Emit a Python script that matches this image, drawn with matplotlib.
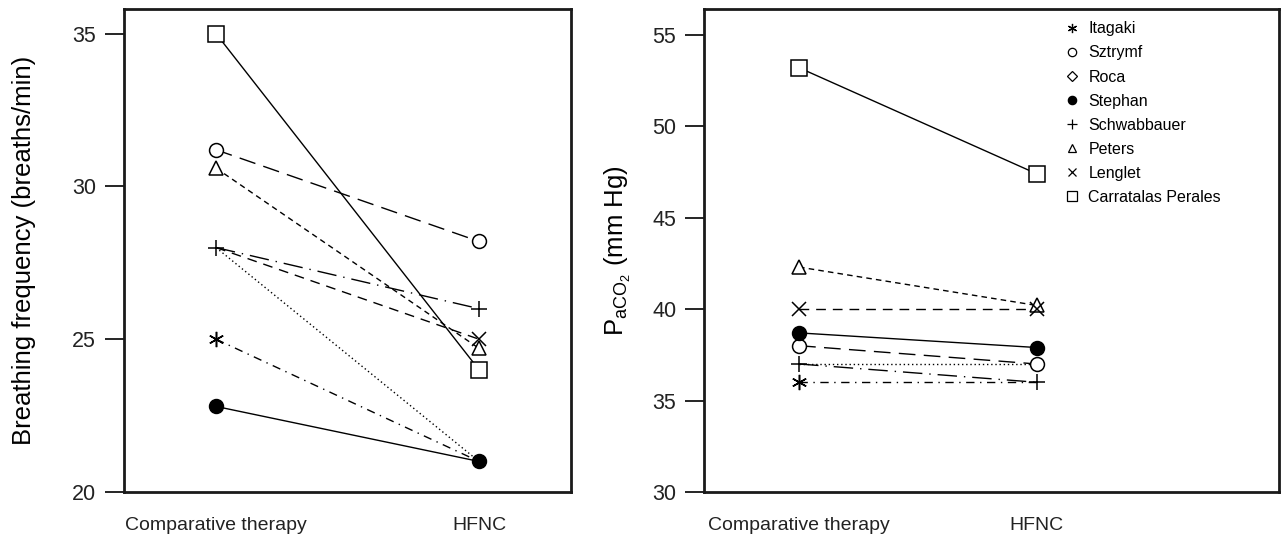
import matplotlib.pyplot as plt
from matplotlib.lines import Line2D

plt.rcParams['font.family'] = ['Liberation Sans', 'DejaVu Sans']
plt.rcParams['mathtext.fontset'] = 'custom'
plt.rcParams['mathtext.rm'] = 'Liberation Sans'
plt.rcParams['mathtext.it'] = 'Liberation Sans:italic'

# -------------------------------
# Data
# -------------------------------
studies = ["Itagaki", "Sztrymf", "Roca", "Stephan", "Schwabbauer",
           "Peters", "Lenglet", "Carratalas Perales"]
groups = ["Comparative therapy", "HFNC"]

# breathing frequency (breaths/min): comparative, HFNC
rr_comp = [25.0, 31.2, 28.0, 22.8, 28.0, 30.6, 28.0, 35.0]
rr_hfnc = [21.0, 28.2, 21.0, 21.0, 26.0, 24.7, 25.0, 24.0]

# PaCO2 (mm Hg): comparative, HFNC
pco2_comp = [36.0, 38.0, 37.0, 38.7, 37.0, 42.3, 40.0, 53.2]
pco2_hfnc = [36.0, 37.0, 37.0, 37.9, 36.0, 40.2, 40.0, 47.4]

# -------------------------------
# Styles
# -------------------------------
markers = [(6, 2, 0), "o", "D", "o", "+", "^", "x", "s"]
fills = ["k", "white", "white", "k", "k", "white", "k", "white"]
msizes = [11, 10, 8, 10, 12, 10, 10, 11]
dashes = [(0, (6, 4, 1, 4)), (0, (12, 6)), (0, (1, 2)), "-",
          (0, (14, 5, 1, 5)), (0, (4, 3)), (0, (7, 5)), "-"]

# markers hidden under other symbols in the original
show_left = [[0], [0, 1], [], [0, 1], [0, 1], [0, 1], [1], [0, 1]]
show_right = [[0], [0, 1], [], [0, 1], [0, 1], [0, 1], [0, 1], [0, 1]]

fig = plt.figure(figsize=(12.81, 5.4), dpi=100)
ax1 = fig.add_axes([0.0968, 0.0889, 0.349, 0.894])
ax2 = fig.add_axes([0.5496, 0.0889, 0.449, 0.894])


def draw(ax, comp, hfnc, show):
    xs = [1, 2]
    for i in range(len(studies)):
        ax.plot(xs, [comp[i], hfnc[i]], color="k", lw=1, ls=dashes[i], zorder=2)
        if show[i]:
            pts_x = [xs[j] for j in show[i]]
            pts_y = [[comp[i], hfnc[i]][j] for j in show[i]]
            ax.plot(pts_x, pts_y, ls="none", marker=markers[i], ms=msizes[i],
                    mfc=fills[i], mec="k", mew=1.1, zorder=3 + (i == 3))
    ax.set_xticks(xs)
    ax.set_xticklabels(groups, fontsize=14, color="#222222")
    ax.tick_params(axis="x", length=0, pad=18)
    ax.tick_params(axis="y", direction="out", length=14, width=1.2,
                   labelsize=15.5, labelcolor="#222222", pad=6)
    for sp in ax.spines.values():
        sp.set_linewidth(2)
        sp.set_color("#1a1a1a")


draw(ax1, rr_comp, rr_hfnc, show_left)
ax1.set_xlim(0.65, 2.35)
ax1.set_ylim(20, 35.8)
ax1.set_yticks([20, 25, 30, 35])
ax1.set_ylabel("Breathing frequency (breaths/min)", fontsize=18.5, labelpad=26)

draw(ax2, pco2_comp, pco2_hfnc, show_right)
ax2.set_xlim(0.6, 3.02)
ax2.set_ylim(30, 56.4)
ax2.set_yticks([30, 35, 40, 45, 50, 55])
ax2.set_ylabel(r"P$_{\mathrm{aCO}_2}$ (mm Hg)", fontsize=18.5, labelpad=14)

handles = [Line2D([], [], ls="none", marker=markers[i], ms=msizes[i] * 0.6,
                  mfc=fills[i], mec="k", mew=0.9) for i in range(len(studies))]
ax2.legend(handles, studies, loc="upper left", frameon=False, fontsize=11.5,
           handlelength=0.75, handletextpad=0.62, labelspacing=0.57,
           borderpad=0.0, borderaxespad=0.0, bbox_to_anchor=(0.63, 0.975))

plt.savefig("out.png", dpi=100)
